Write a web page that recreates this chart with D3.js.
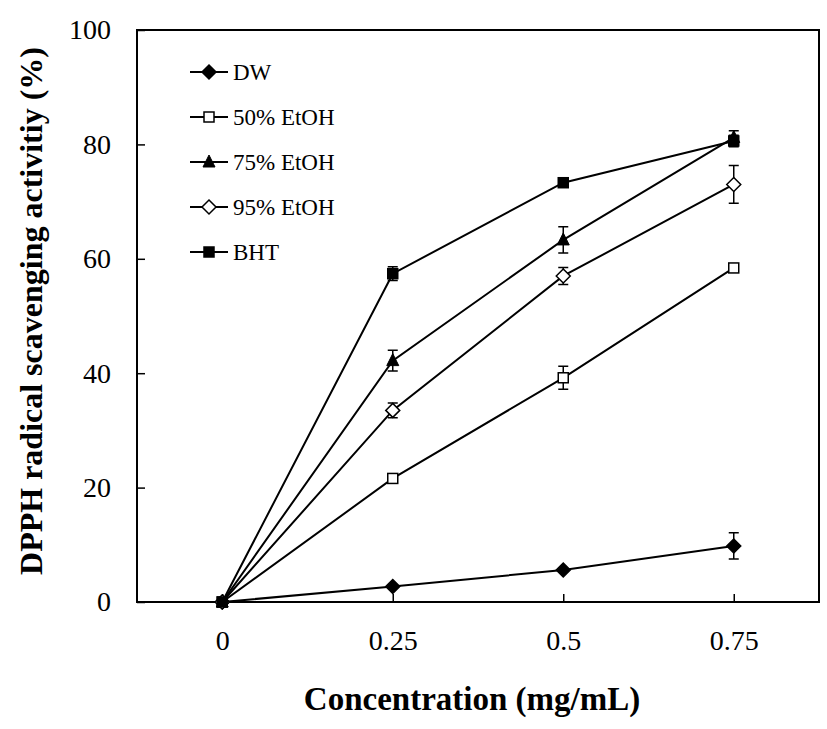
<!DOCTYPE html>
<html><head><meta charset="utf-8">
<script src="https://cdn.jsdelivr.net/npm/d3@7/dist/d3.min.js"></script>
<style>body{margin:0;background:#fff}svg{display:block} text{font-family:"Liberation Serif","Times New Roman",serif}</style>
</head><body><svg id="c" width="827" height="729"></svg>
<script>
const concentrations = [0, 0.25, 0.5, 0.75];
const xTickLabels = ["0", "0.25", "0.5", "0.75"];
const yTicks = [0, 20, 40, 60, 80, 100];
const seriesNames = ["DW", "50% EtOH", "75% EtOH", "95% EtOH", "BHT"];
const markerTypes = ["diamondFill", "squareOpen", "triangleFill", "diamondOpen", "squareFill"];
const dwValues = [0, 2.7, 5.6, 9.8];
const dwErrors = [0, 0, 0, 2.3];
const etoh50Values = [0, 21.6, 39.2, 58.4];
const etoh50Errors = [0, 0, 2.0, 0.7];
const etoh75Values = [0, 42.2, 63.3, 81.2];
const etoh75Errors = [0, 1.8, 2.3, 1.2];
const etoh95Values = [0, 33.5, 57.0, 73.0];
const etoh95Errors = [0, 1.3, 1.5, 3.3];
const bhtValues = [0, 57.4, 73.3, 80.6];
const bhtErrors = [0, 1.2, 0, 1.0];

const allValues = [dwValues, etoh50Values, etoh75Values, etoh95Values, bhtValues];
const allErrors = [dwErrors, etoh50Errors, etoh75Errors, etoh95Errors, bhtErrors];

const svg = d3.select("#c");
const L = 137, R = 819, T = 30, B = 602;
const x = d3.scaleLinear().domain([-0.125, 0.875]).range([L, R]);
const y = d3.scaleLinear().domain([0, 100]).range([B, T]);
const font = '"Liberation Serif", "Times New Roman", serif';

const yAxis = d3.axisLeft(y).tickValues(yTicks).tickSize(-8).tickPadding(26).tickFormat(d3.format("d"));
const gy = svg.append("g").attr("transform", `translate(${L},0)`).call(yAxis);
const xAxis = d3.axisBottom(x).tickValues(concentrations).tickSize(-8).tickPadding(28)
  .tickFormat((d, i) => xTickLabels[i]);
const gx = svg.append("g").attr("transform", `translate(0,${B})`).call(xAxis);
[gx, gy].forEach(g => {
  g.attr("font-family", null).attr("font-size", null);
  g.select(".domain").remove();
  g.selectAll(".tick line").attr("stroke", "#000").attr("stroke-width", 1.5);
  g.selectAll(".tick text").style("font-family", font).style("font-size", "28px").attr("fill", "#000");
});

svg.append("rect").attr("x", L).attr("y", T).attr("width", R - L).attr("height", B - T)
  .attr("fill", "none").attr("stroke", "#000").attr("stroke-width", 2);

svg.append("text").attr("x", 472).attr("y", 710).attr("text-anchor", "middle")
  .style("font-family", font).style("font-weight", "bold").style("font-size", "33px").text("Concentration (mg/mL)");
svg.append("text").attr("transform", `translate(42,311) rotate(-90)`).attr("text-anchor", "middle")
  .style("font-family", font).style("font-weight", "bold").style("font-size", "32px").text("DPPH radical scavenging activitiy (%)");

function marker(g, type, cx, cy) {
  const filled = type.endsWith("Fill");
  const fill = filled ? "#000" : "#fff";
  if (type.startsWith("diamond")) {
    const s = 7;
    g.append("path").attr("d", `M${cx},${cy - s}L${cx + s},${cy}L${cx},${cy + s}L${cx - s},${cy}Z`)
      .attr("fill", fill).attr("stroke", "#000").attr("stroke-width", 1.5);
  } else if (type.startsWith("square")) {
    const s = 5;
    g.append("rect").attr("x", cx - s).attr("y", cy - s).attr("width", 2 * s).attr("height", 2 * s)
      .attr("fill", fill).attr("stroke", "#000").attr("stroke-width", 1.5);
  } else {
    const s = 6;
    g.append("path").attr("d", `M${cx},${cy - s - 1}L${cx + s},${cy + s - 1}L${cx - s},${cy + s - 1}Z`)
      .attr("fill", fill).attr("stroke", "#000").attr("stroke-width", 1);
  }
}

const line = d3.line().x((d, i) => x(concentrations[i])).y(d => y(d));
const plot = svg.append("g");
allValues.forEach((vals, si) => {
  const g = plot.append("g");
  g.append("path").attr("d", line(vals)).attr("fill", "none").attr("stroke", "#000").attr("stroke-width", 2);
  vals.forEach((v, i) => {
    const e = allErrors[si][i];
    if (e > 0) {
      const cx = x(concentrations[i]);
      g.append("path").attr("d", `M${cx},${y(v - e)}V${y(v + e)}M${cx - 5},${y(v - e)}H${cx + 5}M${cx - 5},${y(v + e)}H${cx + 5}`)
        .attr("stroke", "#000").attr("stroke-width", 1.5).attr("fill", "none");
    }
  });
});
allValues.forEach((vals, si) => {
  vals.forEach((v, i) => marker(plot, markerTypes[si], x(concentrations[i]), y(v)));
});

const leg = svg.append("g");
seriesNames.forEach((n, i) => {
  const ly = 72 + i * 45;
  leg.append("line").attr("x1", 190).attr("x2", 228).attr("y1", ly).attr("y2", ly).attr("stroke", "#000").attr("stroke-width", 2);
  marker(leg, markerTypes[i], 209, ly);
  leg.append("text").attr("x", 233).attr("y", ly + 8).style("font-family", font).style("font-size", "23px").text(n);
});
</script></body></html>
